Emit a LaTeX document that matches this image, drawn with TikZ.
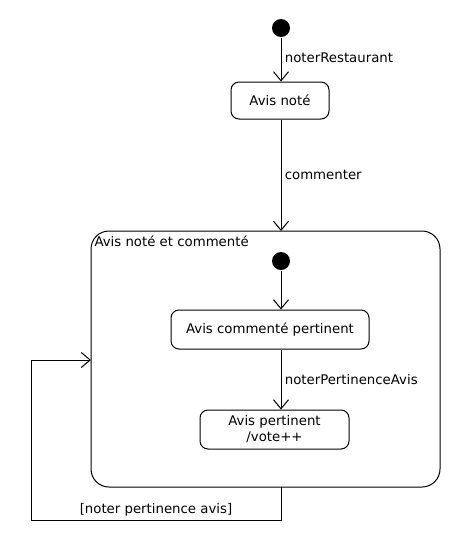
\documentclass[tikz,border=0pt]{standalone}
\usepackage{fontspec}
\setmainfont{DejaVu Sans}
\usetikzlibrary{arrows.meta}

\begin{document}
\begin{tikzpicture}[x=1pt,y=-1pt,line width=1pt,font=\fontsize{13.3}{15}\selectfont,
	etat/.style={draw,rounded corners=8pt,minimum height=37pt,align=center,inner sep=2pt},
	debut/.style={circle,fill=black,minimum size=18pt,inner sep=0pt},
	fleche/.style={-{Straight Barb[length=9pt,width=15pt]}}]
		\useasboundingbox (0,0) rectangle (460,560);
		% Zustaende
		\node[debut] (start) at (281,28) {};
		\node[etat,minimum width=98pt] (note) at (280,100.5) {Avis noté};
		\draw[rounded corners=18pt] (91,231) rectangle (440,487);
		\coordinate (comptop) at (281,231);
		\coordinate (compbot) at (281,487);
		\coordinate (compleft) at (91,360);
		\node[anchor=north west,inner sep=2pt] (titre) at (92,233) {Avis noté et commenté};
		\node[debut] (start2) at (281,261) {};
		\node[etat,minimum width=198pt,minimum height=39pt] (comm) at (270,329.5) {Avis commenté pertinent};
		\node[etat,minimum width=149pt,minimum height=39pt] (pert) at (274.5,429.5) {Avis pertinent\\[1pt]/vote++};
		% Uebergaenge
		\draw[fleche] (start) -- (start|-note.north) node[pos=0.45,right] {noterRestaurant};
		\draw[fleche] (note.south-|start) -- (comptop) node[midway,right] {commenter};
		\draw[fleche] (start2) -- (start2|-comm.north);
		\draw[fleche] (comm.south-|start2) -- (start2|-pert.north) node[midway,right] {noterPertinenceAvis};
		\draw[fleche] (compbot) -- (281,520) -- (31,520) node[pos=0.5,above] {[noter pertinence avis]} -- (31,360) -- (compleft);
	\end{tikzpicture}
\end{document}
